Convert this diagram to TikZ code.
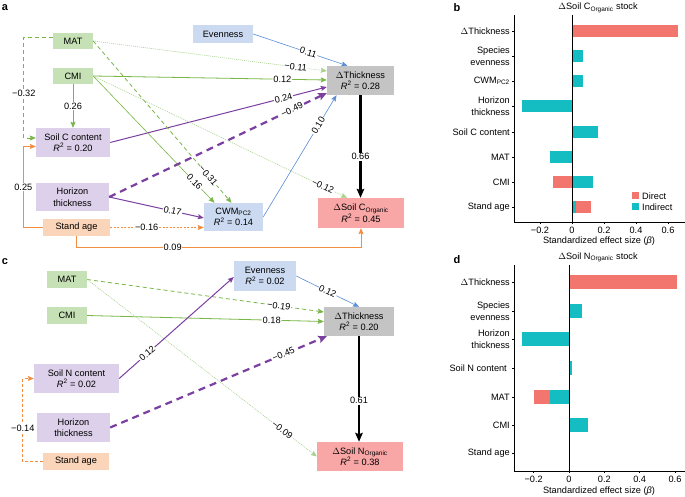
\documentclass[tikz,border=0pt]{standalone}
\usepackage{fontspec}
\setmainfont{Liberation Sans}
\usetikzlibrary{arrows.meta}
\definecolor{gfill}{HTML}{C6E1B5}
\definecolor{pfill}{HTML}{DCD0EA}
\definecolor{ofill}{HTML}{FAD5B9}
\definecolor{bfill}{HTML}{CBDAF1}
\definecolor{kfill}{HTML}{C4C4C4}
\definecolor{rfill}{HTML}{F9A6A6}
\definecolor{gline}{HTML}{78B646}
\definecolor{glight}{HTML}{A8D18C}
\definecolor{pline}{HTML}{7A3F9F}
\definecolor{bline}{HTML}{5A8DD8}
\definecolor{oline}{HTML}{F28E42}
\definecolor{dirc}{HTML}{F3766E}
\definecolor{indc}{HTML}{14BDC2}
\tikzset{
  nd/.style={inner sep=0pt, align=center},
  lab/.style={fill=white, inner sep=0.8pt},
  tipa/.style={-{Stealth[length=6pt,width=5pt,inset=1pt]}},
  tipb/.style={-{Stealth[length=8.5pt,width=7.5pt,inset=1.5pt]}},
  gsolid/.style={draw=gline, line width=0.8pt, tipa},
  gthin/.style={draw=gline, line width=0.6pt, tipa},
  gdash/.style={draw=gline, line width=0.8pt, dash pattern=on 4pt off 3pt, tipa},
  gdot/.style={draw=glight, line width=0.6pt, dash pattern=on 1pt off 1pt, tipa},
  psolid/.style={draw=pline, line width=1pt, tipa},
  pdash/.style={draw=pline, line width=2.2pt, dash pattern=on 7pt off 5pt, tipb},
  bsolid/.style={draw=bline, line width=0.6pt, tipa},
  osolid/.style={draw=oline, line width=0.8pt, tipa},
  odot/.style={draw=oline, line width=0.7pt, dash pattern=on 2pt off 1.5pt, tipa},
  odash/.style={draw=oline, line width=0.8pt, dash pattern=on 3pt off 2pt, tipa},
  kthick/.style={draw=black, line width=2.3pt, -{Stealth[length=9pt,width=7.5pt,inset=1.5pt]}},
  panel/.style={font=\fontsize{11}{13}\selectfont\bfseries},
  axl/.style={inner sep=0pt, align=right, anchor=east},
}
\newcommand{\Rsq}[1]{\textit{R}\textsuperscript{2} = #1}
\begin{document}
\begin{tikzpicture}[x=1pt,y=-1pt, font=\fontsize{9.2}{11.5}\selectfont]
\useasboundingbox (0,0) rectangle (685,497);
\fill[white] (0,0) rectangle (685,497);

% ---------------- panel a ----------------
\node[panel] (la) at (5,8) {a};
\node[nd, fill=gfill, minimum width=40pt, minimum height=16pt] (matA) at (73,41) {MAT};
\node[nd, fill=gfill, minimum width=40pt, minimum height=16pt] (cmiA) at (73,76) {CMI};
\node[nd, fill=pfill, minimum width=74pt, minimum height=29pt] (soilcA) at (73,142.5) {Soil C content\\\Rsq{0.20}};
\node[nd, fill=pfill, minimum width=73pt, minimum height=28pt] (horA) at (72.5,197) {Horizon\\thickness};
\node[nd, fill=ofill, minimum width=67pt, minimum height=17pt] (standA) at (76.5,227.5) {Stand age};
\node[nd, fill=bfill, minimum width=60pt, minimum height=18pt] (evenA) at (223,34) {Evenness};
\node[nd, fill=kfill, minimum width=67pt, minimum height=29pt] (dthA) at (360.5,80.5) {$\Delta$Thickness\\\Rsq{0.28}};
\node[nd, fill=bfill, minimum width=59pt, minimum height=28pt] (cwmA) at (233.5,217) {CWM\textsubscript{PC2}\\\Rsq{0.14}};
\node[nd, fill=rfill, minimum width=86pt, minimum height=30pt] (dscA) at (361,213) {$\Delta$Soil C\textsubscript{Organic}\\\Rsq{0.45}};

\draw[gdot] (matA.east) -- node[lab,sloped,pos=0.867]{−0.11} (dthA.west |- 0,71);
\draw[gsolid] (cmiA.east) -- node[lab,sloped,pos=0.81]{0.12} (dthA.west |- 0,80);
\draw[psolid] (soilcA.east) -- node[lab,sloped,pos=0.8]{0.24} (dthA.west |- 0,87);
\draw[gdash] (matA.east) -- node[lab,sloped,pos=0.833]{−0.31} ([xshift=-2pt]cwmA.north);
\draw[gthin] (cmiA.east) -- node[lab,sloped,pos=0.836]{0.16} ([xshift=-19pt]cwmA.north);
\draw[gdot] (cmiA.east) -- node[lab,sloped,pos=0.905]{−0.12} ([xshift=-14pt]dscA.north);
\draw[pdash] (horA.east) -- node[lab,sloped,pos=0.84]{−0.49} (dthA.west |- 0,93);
\draw[bsolid] (evenA.east) -- node[lab,sloped,pos=0.585]{0.11} ([xshift=-13pt]dthA.north);
\draw[bsolid] (cwmA.east) -- node[lab,sloped,pos=0.75]{0.10} ([xshift=-24pt]dthA.south);
\draw[psolid] (horA.east) -- node[lab,sloped,pos=0.67]{0.17} (cwmA.west |- 0,218);
\draw[odot] (standA.east) -- node[lab,pos=0.39]{−0.16} (cwmA.west |- standA.east);
\draw[osolid] (standA.south) -- ++(0,11) -| node[lab,pos=0.169]{0.09} (dscA.south);
\draw[kthick] (dthA.south) -- node[lab,pos=0.6]{0.66} (dthA.south |- dscA.north);
\draw[gdash] ([yshift=4pt]matA.west) -- ++(-29,0) |- node[lab,pos=0.28]{−0.32} ([yshift=4.5pt]soilcA.west);
\draw[osolid] (standA.west) -- ++(-19.5,0) |- node[lab,pos=0.25]{0.25} ([yshift=-4pt]soilcA.west);
\draw[gsolid] (cmiA.south) -- node[lab]{0.26} (soilcA.north);

% ---------------- panel c ----------------
\node[panel] (lc) at (5,262) {c};
\node[nd, fill=gfill, minimum width=40pt, minimum height=17pt] (matC) at (67,279.5) {MAT};
\node[nd, fill=gfill, minimum width=40pt, minimum height=17pt] (cmiC) at (67,315.5) {CMI};
\node[nd, fill=pfill, minimum width=85pt, minimum height=29pt] (soilnC) at (76.5,378.5) {Soil N content\\\Rsq{0.02}};
\node[nd, fill=pfill, minimum width=73pt, minimum height=29pt] (horC) at (73.5,427.5) {Horizon\\thickness};
\node[nd, fill=ofill, minimum width=66pt, minimum height=17pt] (standC) at (76,461.5) {Stand age};
\node[nd, fill=bfill, minimum width=62pt, minimum height=30pt] (evenC) at (265,276) {Evenness\\\Rsq{0.02}};
\node[nd, fill=kfill, minimum width=70pt, minimum height=29pt] (dthC) at (359,321.5) {$\Delta$Thickness\\\Rsq{0.20}};
\node[nd, fill=rfill, minimum width=86pt, minimum height=29pt] (dsnC) at (360,456.5) {$\Delta$Soil N\textsubscript{Organic}\\\Rsq{0.38}};

\draw[gdash] (matC.east) -- node[lab,sloped,pos=0.81]{−0.19} ([yshift=9.5pt]dthC.west);
\draw[gsolid] (cmiC.east) -- node[lab,sloped,pos=0.78]{0.18} (dthC.west);
\draw[gdot] (matC.east) -- node[lab,sloped,pos=0.85]{−0.09} (dsnC.west);
\draw[psolid] (soilnC.east) -- node[lab,sloped,pos=0.245]{0.12} ([yshift=-1pt]evenC.west);
\draw[bsolid] (evenC.east) -- node[lab,sloped,pos=0.5]{0.12} (dthC.north);
\draw[pdash] (horC.east) -- node[lab,sloped,pos=0.8]{−0.45} ([xshift=3pt]dthC.south west);
\draw[kthick] (dthC.south) -- node[lab,pos=0.61]{0.61} (dthC.south |- dsnC.north);
\draw[odash] (standC.west) -- ++(-20,0) |- node[lab,pos=0.2]{−0.14} (soilnC.west);

% ---------------- panel b ----------------
\node[panel] (lb) at (457,8) {b};
\node (tb) at (598,8) {$\Delta$Soil C\textsubscript{Organic} stock};
\fill[dirc] (572,24.75) rectangle (677.6,37.25);
\fill[indc] (572,49.75) rectangle (583.2,62.25);
\fill[indc] (572,74.75) rectangle (583.2,87.25);
\fill[indc] (522.4,99.75) rectangle (572,112.25);
\fill[indc] (572,125.75) rectangle (597.6,138.25);
\fill[indc] (549.6,150.75) rectangle (572,163.25);
\fill[dirc] (552.8,175.75) rectangle (572,188.25);
\fill[indc] (572,175.75) rectangle (592.8,188.25);
\fill[indc] (572,200.75) rectangle (576,213.25);
\fill[dirc] (576,200.75) rectangle (591.2,213.25);
\draw[line width=0.6pt] (514,15) -- (514,222) -- (685,222);
\draw[line width=0.6pt] (572,15) -- (572,222);
\foreach \yy in {31,56,81,106,132,157,182,207} \draw[line width=0.5pt] (512,\yy) -- (514,\yy);
\foreach \xx/\tt in {540/−0.2,572/0,604/0.2,636/0.4,668/0.6} {
  \draw[line width=0.5pt] (\xx,222) -- (\xx,224);
  \node[inner sep=0pt] at (\xx,230.5) {\tt};
}
\node (xb) at (599,241.5) {Standardized effect size (\textit{β})};
\node[axl] (cb1) at (510,31) {$\Delta$Thickness};
\node[axl] (cb2) at (510,56) {Species\\evenness};
\node[axl] (cb3) at (510,81) {CWM\textsubscript{PC2}};
\node[axl] (cb4) at (510,106) {Horizon\\thickness};
\node[axl] (cb5) at (510,132) {Soil C content};
\node[axl] (cb6) at (510,157) {MAT};
\node[axl] (cb7) at (510,182) {CMI};
\node[axl] (cb8) at (510,207) {Stand age};
\fill[dirc] (632,192.5) rectangle (639,199.5);
\fill[indc] (632,203.5) rectangle (639,210.5);
\node[inner sep=0pt, anchor=west] (lg1) at (642,196) {Direct};
\node[inner sep=0pt, anchor=west] (lg2) at (642,207) {Indirect};

% ---------------- panel d ----------------
\node[panel] (ld) at (457,260) {d};
\node (td) at (598,257.5) {$\Delta$Soil N\textsubscript{Organic} stock};
\fill[dirc] (569,275) rectangle (676.8,289);
\fill[indc] (569,304) rectangle (582,318);
\fill[indc] (522.2,332) rectangle (569,346);
\fill[indc] (569,361) rectangle (571.8,375);
\fill[indc] (550,390) rectangle (569,404);
\fill[dirc] (533.7,390) rectangle (550,404);
\fill[indc] (569,418) rectangle (588.4,432);
\draw[line width=0.6pt] (514,265) -- (514,471) -- (685,471);
\draw[line width=0.6pt] (569,265) -- (569,471);
\foreach \yy in {282,311,339,368,397,425,453} \draw[line width=0.5pt] (512,\yy) -- (514,\yy);
\foreach \xx/\tt in {533.7/−0.2,569/0,604.3/0.2,639.7/0.4,675/0.6} {
  \draw[line width=0.5pt] (\xx,471) -- (\xx,473);
  \node[inner sep=0pt] at (\xx,479.5) {\tt};
}
\node (xd) at (599,491) {Standardized effect size (\textit{β})};
\node[axl] (cd1) at (510,282) {$\Delta$Thickness};
\node[axl] (cd2) at (510,311) {Species\\evenness};
\node[axl] (cd3) at (510,339) {Horizon\\thickness};
\node[axl] (cd4) at (507,368) {Soil N content};
\node[axl] (cd5) at (510,397) {MAT};
\node[axl] (cd6) at (510,425) {CMI};
\node[axl] (cd7) at (510,453) {Stand age};
\end{tikzpicture}
\end{document}
